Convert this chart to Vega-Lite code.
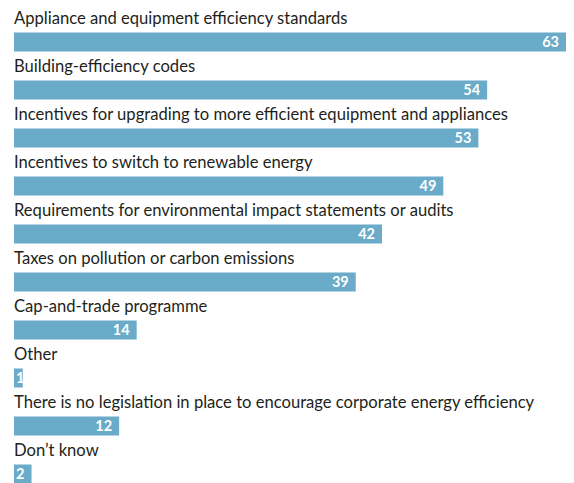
{
  "$schema": "https://vega.github.io/schema/vega-lite/v6.json",
  "autosize": "none",
  "width": 552,
  "height": 465,
  "padding": {"left": 14, "top": 18, "right": 8, "bottom": 0},
  "background": "white",
  "config": {"view": {"stroke": null}},
  "data": {"values": [
    {"label": "Appliance and equipment efficiency standards", "value": 63},
    {"label": "Building-efficiency codes", "value": 54},
    {"label": "Incentives for upgrading to more efficient equipment and appliances", "value": 53},
    {"label": "Incentives to switch to renewable energy", "value": 49},
    {"label": "Requirements for environmental impact statements or audits", "value": 42},
    {"label": "Taxes on pollution or carbon emissions", "value": 39},
    {"label": "Cap-and-trade programme", "value": 14},
    {"label": "Other", "value": 1},
    {"label": "There is no legislation in place to encourage corporate energy efficiency", "value": 12},
    {"label": "Don’t know", "value": 2}
  ]},
  "encoding": {
    "y": {"field": "label", "type": "nominal", "sort": null, "axis": null,
          "scale": {"range": [0, 480], "paddingInner": 0, "paddingOuter": 0}}
  },
  "layer": [
    {
      "mark": {"type": "bar", "height": 19, "color": "#69abc8"},
      "encoding": {
        "x": {"field": "value", "type": "quantitative", "axis": null, "scale": {"domain": [0, 63], "nice": false}}
      }
    },
    {
      "transform": [{"filter": "datum.value >= 10"}],
      "mark": {"type": "text", "align": "right", "baseline": "middle", "dx": -7, "dy": 1, "color": "white", "font": "Lato", "fontWeight": "bold", "fontSize": 14.5},
      "encoding": {
        "x": {"field": "value", "type": "quantitative"},
        "text": {"field": "value", "type": "quantitative"}
      }
    },
    {
      "transform": [{"filter": "datum.value < 10"}],
      "mark": {"type": "text", "align": "left", "baseline": "middle", "dx": 2, "dy": 1, "color": "white", "font": "Lato", "fontWeight": "bold", "fontSize": 14.5},
      "encoding": {
        "x": {"datum": 0},
        "text": {"field": "value", "type": "quantitative"}
      }
    },
    {
      "mark": {"type": "text", "align": "left", "baseline": "alphabetic", "dy": -18, "color": "#231f20", "font": "Lato", "fontSize": 16.6},
      "encoding": {
        "x": {"datum": 0},
        "text": {"field": "label", "type": "nominal"}
      }
    }
  ]
}
